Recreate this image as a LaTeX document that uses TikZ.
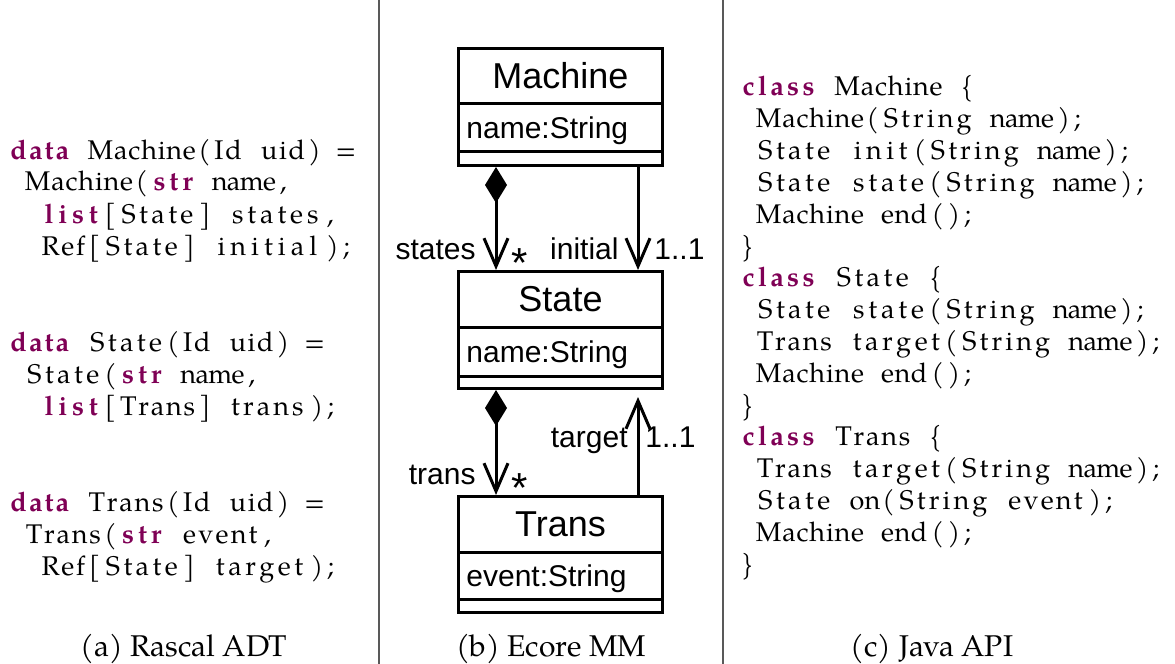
\documentclass[tikz,border=0pt]{standalone}
\usepackage{fontspec}
\setmainfont{texgyrepagella}[Extension=.otf,UprightFont=*-regular,BoldFont=*-bold,ItalicFont=*-italic,BoldItalicFont=*-bolditalic]
\newfontfamily\umlfont{Liberation Sans}
\usetikzlibrary{arrows.meta}
\definecolor{kwcol}{HTML}{7F0055}
\newlength\cw \setlength\cw{7.85pt}
\makeatletter
\newcount\tkcnt
\newcommand\tk[1]{\tkcnt=0 \@tfor\tkx:=#1\do{\advance\tkcnt by 1 }\hbox to \tkcnt\cw{\hss\@tfor\tkx:=#1\do{\tkx\hss}}}
\makeatother
\newcommand\kw[1]{{\bfseries\color{kwcol}\tk{#1}}}
\newcommand\cs{\hbox to\cw{}}
\tikzset{
  codeline/.style={anchor=base west, inner sep=0pt, font=\fontsize{13.5}{16}\selectfont},
  caption/.style={anchor=base, inner sep=0pt, font=\fontsize{15}{18}\selectfont},
  umlbox/.style={draw, line width=1.5pt, minimum width=102pt, inner sep=0pt},
  sepline/.style={line width=1.5pt},
  umlhead/.style={inner sep=0pt, font=\umlfont\fontsize{18}{21}\selectfont},
  umlattr/.style={anchor=base west, inner sep=0pt, font=\umlfont\fontsize{15}{18}\selectfont},
  umllab/.style={inner sep=0pt, font=\umlfont\fontsize{15}{18}\selectfont},
  multstar/.style={inner sep=0pt, anchor=base west, font=\umlfont\fontsize{21}{24}\selectfont},
  compo/.style={line width=1.5pt, {Diamond[length=18pt,width=11pt]}-{Straight Barb[length=14pt,width=12pt,line width=1.5pt]}},
  refarr/.style={line width=1.5pt, -{Straight Barb[length=14pt,width=12pt,line width=1.5pt]}},
  vsep/.style={draw=black!65, line width=0.6pt}
}
\begin{document}
\begin{tikzpicture}[x=0.5pt,y=-0.5pt]
\useasboundingbox (0,0) rectangle (1175,664);
% separators
\draw[vsep] (379,0) -- (379,664);
\draw[vsep] (723,0) -- (723,664);
% Rascal ADT
\node[codeline] (a0) at (8,159) {\kw{data}\cs\tk{Machine}\tk{(}\tk{Id}\cs\tk{uid}\tk{)}\cs\tk{=}};
\node[codeline] (a1) at (8,191) {\cs\tk{Machine}\tk{(}\kw{str}\cs\tk{name}\tk{,}};
\node[codeline] (a2) at (8,223) {\cs\cs\kw{list}\tk{[}\tk{State}\tk{]}\cs\tk{states}\tk{,}};
\node[codeline] (a3) at (8,255) {\cs\cs\tk{Ref}\tk{[}\tk{State}\tk{]}\cs\tk{initial}\tk{);}};
\node[codeline] (a6) at (8,351) {\kw{data}\cs\tk{State}\tk{(}\tk{Id}\cs\tk{uid}\tk{)}\cs\tk{=}};
\node[codeline] (a7) at (8,383) {\cs\tk{State}\tk{(}\kw{str}\cs\tk{name}\tk{,}};
\node[codeline] (a8) at (8,415) {\cs\cs\kw{list}\tk{[}\tk{Trans}\tk{]}\cs\tk{trans}\tk{);}};
\node[codeline] (a11) at (8,511) {\kw{data}\cs\tk{Trans}\tk{(}\tk{Id}\cs\tk{uid}\tk{)}\cs\tk{=}};
\node[codeline] (a12) at (8,543) {\cs\tk{Trans}\tk{(}\kw{str}\cs\tk{event}\tk{,}};
\node[codeline] (a13) at (8,575) {\cs\cs\tk{Ref}\tk{[}\tk{State}\tk{]}\cs\tk{target}\tk{);}};
% Java API
\node[codeline] (j0) at (739,96) {\kw{class}\cs\tk{Machine}\cs\tk{\{}};
\node[codeline] (j1) at (739,127.8) {\cs\tk{Machine}\tk{(}\tk{String}\cs\tk{name}\tk{);}};
\node[codeline] (j2) at (739,159.6) {\cs\tk{State}\cs\tk{init}\tk{(}\tk{String}\cs\tk{name}\tk{);}};
\node[codeline] (j3) at (739,191.4) {\cs\tk{State}\cs\tk{state}\tk{(}\tk{String}\cs\tk{name}\tk{);}};
\node[codeline] (j4) at (739,223.2) {\cs\tk{Machine}\cs\tk{end}\tk{();}};
\node[codeline] (j5) at (739,255) {\tk{\}}};
\node[codeline] (j6) at (739,286.8) {\kw{class}\cs\tk{State}\cs\tk{\{}};
\node[codeline] (j7) at (739,318.6) {\cs\tk{State}\cs\tk{state}\tk{(}\tk{String}\cs\tk{name}\tk{);}};
\node[codeline] (j8) at (739,350.4) {\cs\tk{Trans}\cs\tk{target}\tk{(}\tk{String}\cs\tk{name}\tk{);}};
\node[codeline] (j9) at (739,382.2) {\cs\tk{Machine}\cs\tk{end}\tk{();}};
\node[codeline] (j10) at (739,414) {\tk{\}}};
\node[codeline] (j11) at (739,445.8) {\kw{class}\cs\tk{Trans}\cs\tk{\{}};
\node[codeline] (j12) at (739,477.6) {\cs\tk{Trans}\cs\tk{target}\tk{(}\tk{String}\cs\tk{name}\tk{);}};
\node[codeline] (j13) at (739,509.4) {\cs\tk{State}\cs\tk{on}\tk{(}\tk{String}\cs\tk{event}\tk{);}};
\node[codeline] (j14) at (739,541.2) {\cs\tk{Machine}\cs\tk{end}\tk{();}};
\node[codeline] (j15) at (739,573) {\tk{\}}};
% Ecore MM
\node[umlbox, minimum height=58.5pt] (machine) at (560.5,107) {};
\node[umlbox, minimum height=58.5pt] (state) at (560.5,330) {};
\node[umlbox, minimum height=58pt] (trans) at (560.5,554.5) {};
\draw[sepline] (458.5,103) -- (662.5,103);
\draw[sepline] (458.5,151) -- (662.5,151);
\draw[sepline] (458.5,327) -- (662.5,327);
\draw[sepline] (458.5,376) -- (662.5,376);
\draw[sepline] (458.5,552) -- (662.5,552);
\draw[sepline] (458.5,599) -- (662.5,599);
\node[umlhead] (machinename) at (560.5,76) {Machine};
\node[umlhead] (statename) at (560.5,299) {State};
\node[umlhead] (transname) at (560.5,524) {Trans};
\node[umlattr] (machineattr) at (466,138) {name:String};
\node[umlattr] (stateattr) at (466,362) {name:String};
\node[umlattr] (transattr) at (466,586) {event:String};
\coordinate (cl) at (496,0);
\coordinate (cr) at (638,0);
\draw[compo] (machine.south -| cl) -- (state.north -| cl);
\draw[refarr] (machine.south -| cr) -- (state.north -| cr);
\draw[compo] (state.south -| cl) -- (trans.north -| cl);
\draw[refarr, shorten >=3.5pt] (trans.north -| cr) -- (state.south -| cr);
\node[umllab, anchor=base east] (lstates) at (476,259) {states};
\node[multstar] (mstates) at (511,277) {*};
\node[umllab, anchor=base east] (linitial) at (619,259) {initial};
\node[umllab, anchor=base west] (minitial) at (654,259) {1..1};
\node[umllab, anchor=base east] (ltrans) at (476,484) {trans};
\node[multstar] (mtrans) at (511,502) {*};
\node[umllab, anchor=base east] (ltarget) at (628,447) {target};
\node[umllab, anchor=base west] (mtarget) at (645,447) {1..1};
% captions
\node[caption] (capa) at (184,656) {(a) Rascal ADT};
\node[caption] (capb) at (551,656) {(b) Ecore MM};
\node[caption] (capc) at (932,656) {(c) Java API};
\end{tikzpicture}
\end{document}
